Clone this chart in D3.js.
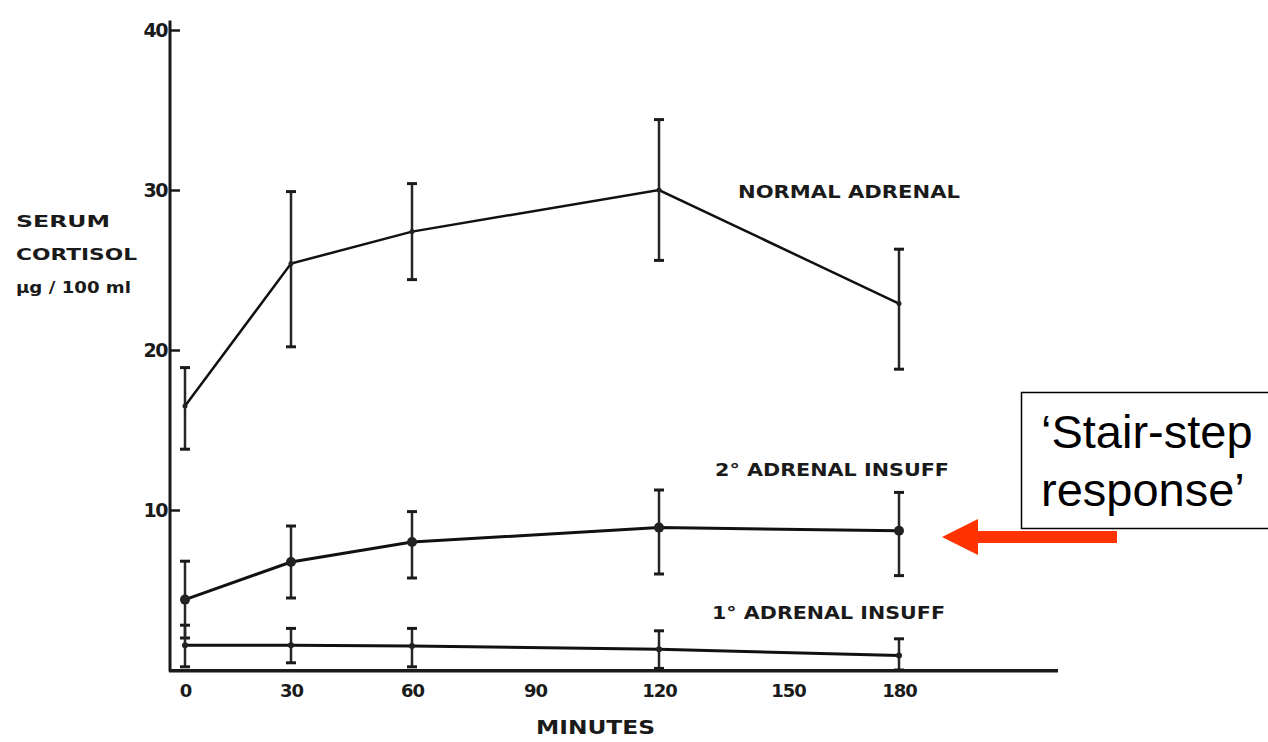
<!DOCTYPE html>
<html>
<head>
<meta charset="utf-8">
<script src="https://cdn.jsdelivr.net/npm/d3@7"></script>
<style>
  html, body { margin: 0; padding: 0; background: #fff; }
  svg { display: block; }
  .fig { font-family: "DejaVu Sans", sans-serif; font-weight: bold; fill: #1a1a1a; }
</style>
</head>
<body>
<div id="chart"></div>
<script>
// time points (minutes) and serum cortisol, µg/100 ml
const minutes = [0, 30, 60, 120, 180]
const normalMean = [16.5, 25.4, 27.4, 30.0, 22.9]
const normalLow = [13.8, 20.2, 24.4, 25.6, 18.8]
const normalHigh = [18.9, 29.9, 30.4, 34.4, 26.3]
const secondaryMean = [4.4, 6.75, 8.0, 8.9, 8.7]
const secondaryLow = [2.0, 4.5, 5.75, 6.0, 5.9]
const secondaryHigh = [6.8, 9.0, 9.9, 11.25, 11.1]
const primaryMean = [1.55, 1.55, 1.5, 1.3, 0.9]
const primaryLow = [0.2, 0.45, 0.2, 0.1, 0.0]
const primaryHigh = [2.8, 2.6, 2.6, 2.45, 1.95]
const seriesNames = ["NORMAL ADRENAL", "2° ADRENAL INSUFF", "1° ADRENAL INSUFF"]
const xTicks = [0, 30, 60, 90, 120, 150, 180]
const yTicks = [10, 20, 30, 40]
const yTitle = ["SERUM", "CORTISOL", "µg / 100 ml"]
const xTitle = "MINUTES"
const note = ["‘Stair-step", "response’"]

const W = 1268, H = 742
const AXIS_X = 170
const ink = '#1a1a1a'

const svg = d3.select('#chart').append('svg')
    .attr('width', W)
    .attr('height', H)

// the printed time axis is hand-spaced, so the scale follows its tick stops
const x = d3.scaleLinear()
    .domain([0, 30, 60, 90, 120, 150, 180, 220])
    .range([185, 291, 412, 535, 659, 788, 899, 1058])
const y = d3.scaleLinear().domain([0, 40]).range([670, 30])

// axes
svg.append('line')
    .attr('x1', AXIS_X).attr('x2', AXIS_X)
    .attr('y1', y(40.6)).attr('y2', y(-0.1))
    .style('stroke', ink).style('stroke-width', 3)
svg.append('line')
    .attr('x1', AXIS_X - 1).attr('x2', x(220))
    .attr('y1', y(-0.05)).attr('y2', y(-0.05))
    .style('stroke', ink).style('stroke-width', 3.5)

const yAxis = d3.axisLeft(y).tickValues(yTicks).tickSize(-10).tickPadding(3)
const gy = svg.append('g')
    .attr('transform', 'translate(' + AXIS_X + ',0)')
    .call(yAxis)
gy.select('.domain').remove()
gy.selectAll('line').style('stroke', ink).style('stroke-width', 2.5)
gy.selectAll('text').attr('class', 'fig').style('font-size', '19px').style('letter-spacing', '-1.5px')

const xAxis = d3.axisBottom(x).tickValues(xTicks).tickSize(0).tickPadding(14)
const gx = svg.append('g')
    .attr('transform', 'translate(0,' + y(0) + ')')
    .call(xAxis)
gx.select('.domain').remove()
gx.selectAll('text').attr('class', 'fig').style('font-size', '18px').style('letter-spacing', '-1px')

// axis titles
yTitle.forEach(function (t, i) {
    svg.append('text')
        .attr('class', 'fig')
        .attr('x', 16)
        .attr('y', 227 + i * 33)
        .style('font-size', '16px')
        .attr('textLength', [94, 121, 115][i])
        .attr('lengthAdjust', 'spacingAndGlyphs')
        .text(t)
})
svg.append('text')
    .attr('class', 'fig')
    .attr('x', 536)
    .attr('y', 734)
    .style('font-size', '19px')
    .attr('textLength', 119)
    .attr('lengthAdjust', 'spacingAndGlyphs')
    .text(xTitle)

// series
const series = [
    { mean: normalMean, low: normalLow, high: normalHigh, r: 2.5, w: 2.5 },
    { mean: secondaryMean, low: secondaryLow, high: secondaryHigh, r: 5, w: 3 },
    { mean: primaryMean, low: primaryLow, high: primaryHigh, r: 3, w: 3 }
]

const line = d3.line()
    .x(function (d) { return x(d[0]) })
    .y(function (d) { return y(d[1]) })

series.forEach(function (s) {
    const pts = minutes.map(function (m, i) { return [m, s.mean[i], s.low[i], s.high[i]] })
    const g = svg.append('g')
    g.selectAll('line.bar').data(pts).enter().append('line')
        .attr('class', 'bar')
        .attr('x1', function (d) { return x(d[0]) })
        .attr('x2', function (d) { return x(d[0]) })
        .attr('y1', function (d) { return y(d[2]) })
        .attr('y2', function (d) { return y(d[3]) })
        .style('stroke', '#262626').style('stroke-width', 2.5)
    ;[2, 3].forEach(function (k) {
        g.selectAll('line.cap' + k).data(pts).enter().append('line')
            .attr('class', 'cap' + k)
            .attr('x1', function (d) { return x(d[0]) - 5 })
            .attr('x2', function (d) { return x(d[0]) + 5 })
            .attr('y1', function (d) { return y(d[k]) })
            .attr('y2', function (d) { return y(d[k]) })
            .style('stroke', ink).style('stroke-width', 3)
    })
    g.append('path')
        .attr('d', line(pts))
        .style('fill', 'none')
        .style('stroke', '#111')
        .style('stroke-width', s.w)
    g.selectAll('circle').data(pts).enter().append('circle')
        .attr('cx', function (d) { return x(d[0]) })
        .attr('cy', function (d) { return y(d[1]) })
        .attr('r', s.r)
        .style('fill', '#222')
})

// series labels
const labelPos = [[738, 198, 222], [715, 476, 234], [712, 619, 233]]
seriesNames.forEach(function (n, i) {
    svg.append('text')
        .attr('class', 'fig')
        .attr('x', labelPos[i][0])
        .attr('y', labelPos[i][1])
        .style('font-size', '17px')
        .attr('textLength', labelPos[i][2])
        .attr('lengthAdjust', 'spacingAndGlyphs')
        .text(n)
})

// annotation box and arrow
svg.append('rect')
    .attr('x', 1021.5).attr('y', 392.5)
    .attr('width', 260).attr('height', 136)
    .style('fill', '#fff')
    .style('stroke', '#000').style('stroke-width', 1.5)
note.forEach(function (t, i) {
    svg.append('text')
        .attr('x', 1041)
        .attr('y', 448 + i * 58)
        .style('font-family', '"Liberation Sans", Arial, sans-serif')
        .style('font-size', '47px')
        .style('fill', '#000')
        .text(t)
})
svg.append('rect')
    .attr('x', 975).attr('y', 531)
    .attr('width', 142).attr('height', 12)
    .style('fill', '#ff3300')
svg.append('path')
    .attr('d', 'M942,537 L978,519 L978,555 Z')
    .style('fill', '#ff3300')
</script>
</body>
</html>
